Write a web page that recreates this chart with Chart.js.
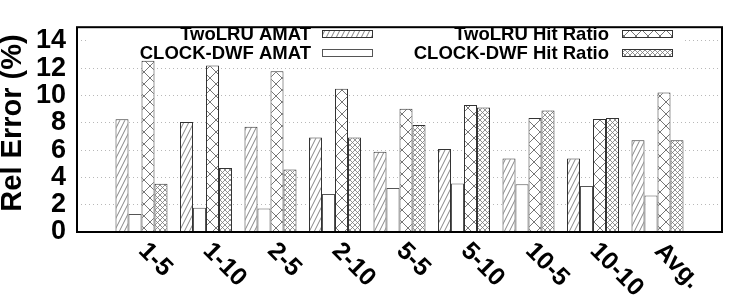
<!DOCTYPE html>
<html><head><meta charset="utf-8">
<script src="https://cdn.jsdelivr.net/npm/chart.js@4/dist/chart.umd.min.js"></script>
<style>html,body{margin:0;padding:0;background:#fff}#wrap{width:750px;height:300px}</style>
</head><body><div id="wrap"><canvas id="c" width="750" height="300"></canvas></div>
<script>
const categories = ['1-5','1-10','2-5','2-10','5-5','5-10','10-5','10-10','Avg.'];
const twoLruAmat = [8.26,8.05,7.70,6.92,5.87,6.08,5.38,5.38,6.72];
const clockAmat  = [1.31,1.78,1.73,2.78,3.23,3.56,3.49,3.37,2.67];
const twoLruHit  = [12.54,12.19,11.77,10.50,9.03,9.31,8.35,8.28,10.22];
const clockHit   = [3.53,4.68,4.58,6.92,7.84,9.12,8.89,8.35,6.72];
const yTicks = [0,2,4,6,8,10,12,14];
const seriesNames = ['TwoLRU AMAT','CLOCK-DWF AMAT','TwoLRU Hit Ratio','CLOCK-DWF Hit Ratio'];
const yTitle = 'Rel Error (%)';

const FONT = '"Liberation Sans", Arial, Helvetica, sans-serif';
const canvas = document.getElementById('c');
const ctx = canvas.getContext('2d');

function makePattern(w, h, color, lw, lines) {
  const c = document.createElement('canvas');
  c.width = w; c.height = h;
  const g = c.getContext('2d');
  g.fillStyle = '#fff'; g.fillRect(0, 0, w, h);
  g.strokeStyle = color; g.lineWidth = lw;
  g.beginPath();
  lines.forEach(l => { g.moveTo(l[0], l[1]); g.lineTo(l[2], l[3]); });
  g.stroke();
  return ctx.createPattern(c, 'repeat');
}
const patAmat = makePattern(5, 10, '#777', 0.9, [[-5,10,0,0],[0,10,5,0],[5,10,10,0]]);
const patBigX = makePattern(12, 12, '#666', 0.9, [[0,0,12,12],[0,12,12,0],[-12,0,0,12],[12,0,24,12],[0,-12,12,0],[0,24,12,12]]);
const patFineX = makePattern(5, 5, '#777', 0.8, [[0,0,5,5],[0,5,5,0],[-5,0,0,5],[5,0,10,5],[0,-5,5,0],[0,10,5,5]]);

const fills = [patAmat, '#ffffff', patBigX, patFineX];
const borders = ['#333', '#555', '#333', '#333'];
const pad = arr => [null, ...arr, null];
const labels = ['', ...categories, ''];
const seriesData = [twoLruAmat, clockAmat, twoLruHit, clockHit];

const datasets = seriesData.map((d, i) => ({
  label: seriesNames[i],
  data: pad(d),
  backgroundColor: fills[i],
  borderColor: borders[i],
  borderWidth: 1,
  categoryPercentage: 0.806,
  barPercentage: 1.0
}));

const customDraw = {
  id: 'customDraw',
  beforeDatasetsDraw(chart) {
    const c = chart.ctx;
    c.save();
    c.fillStyle = '#fff';
    c.fillRect(86, 22, 596, 42);
    c.font = 'bold 18.5px ' + FONT;
    c.textAlign = 'right';
    c.textBaseline = 'alphabetic';
    const pos = [
      {tx: 311, ty: 39.5, bx: 322, by: 30},
      {tx: 311, ty: 58.5, bx: 322, by: 49},
      {tx: 609, ty: 39.5, bx: 622, by: 30},
      {tx: 609, ty: 58.5, bx: 622, by: 49}
    ];
    pos.forEach((p, i) => {
      c.fillStyle = '#000';
      c.fillText(seriesNames[i], p.tx, p.ty);
      c.fillStyle = fills[i];
      c.fillRect(p.bx, p.by, 51, 8);
      c.strokeStyle = borders[i];
      c.lineWidth = 1;
      c.strokeRect(p.bx + 0.5, p.by + 0.5, 50, 7);
    });
    c.restore();
  },
  afterDraw(chart) {
    const c = chart.ctx;
    const a = chart.chartArea;
    c.save();
    c.strokeStyle = '#000';
    c.lineWidth = 2;
    c.strokeRect(a.left, a.top, a.right - a.left, a.bottom - a.top);
    const xs = chart.scales.x;
    c.fillStyle = '#000';
    c.font = 'bold 25px ' + FONT;
    c.textAlign = 'left';
    c.textBaseline = 'alphabetic';
    categories.forEach((lab, i) => {
      const x = xs.getPixelForValue(i + 1);
      c.save();
      c.translate(x - 4, 252);
      c.rotate(Math.PI / 4);
      c.fillText(lab, 0, 0);
      c.restore();
    });
    c.save();
    c.translate(13, 123);
    c.rotate(-Math.PI / 2);
    c.font = 'bold 29px ' + FONT;
    c.textAlign = 'center';
    c.textBaseline = 'middle';
    c.fillText(yTitle, 0, 0);
    c.restore();
    c.restore();
  }
};

new Chart(canvas, {
  type: 'bar',
  data: { labels, datasets },
  options: {
    responsive: false,
    devicePixelRatio: 1,
    animation: false,
    layout: { padding: { top: 18, right: 28, left: 0, bottom: 0 } },
    plugins: { legend: { display: false }, tooltip: { enabled: false } },
    scales: {
      x: {
        offset: false,
        grid: { display: false, drawTicks: false },
        border: { display: false },
        ticks: { display: false },
        afterFit: s => { s.height = 68; }
      },
      y: {
        min: 0, max: 15,
        afterBuildTicks: s => { s.ticks = yTicks.map(v => ({ value: v })); },
        grid: { color: '#b8b8b8', lineWidth: 1, drawTicks: false },
        border: { display: false, dash: [1, 3] },
        ticks: { color: '#000', padding: 11, autoSkip: false, font: { family: FONT, size: 27, weight: 'bold' } },
        afterFit: s => { s.width = 77; }
      }
    }
  },
  plugins: [customDraw]
});
</script>
</body></html>
